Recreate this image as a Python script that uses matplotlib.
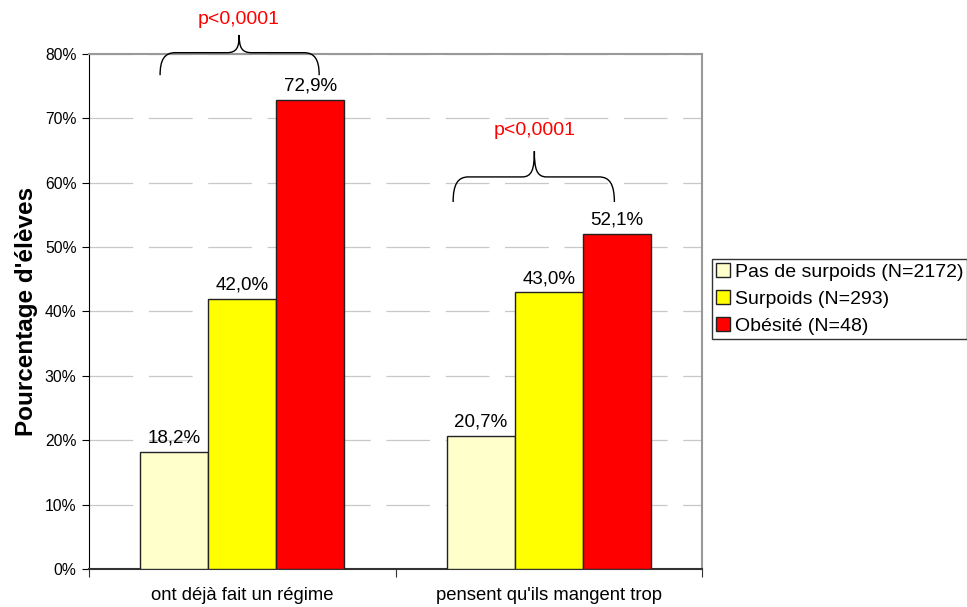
import matplotlib
matplotlib.use('Agg')
import matplotlib.pyplot as plt
from matplotlib.path import Path
from matplotlib.patches import PathPatch
import numpy as np

plt.rcParams['font.family'] = ['Liberation Sans', 'DejaVu Sans']

categories = ['ont déjà fait un régime', "pensent qu'ils mangent trop"]
series = ['Pas de surpoids (N=2172)', 'Surpoids (N=293)', 'Obésité (N=48)']
values = [[18.2, 20.7], [42.0, 43.0], [72.9, 52.1]]
labels = [['18,2%', '20,7%'], ['42,0%', '43,0%'], ['72,9%', '52,1%']]
colors = ['#FFFFCC', '#FFFF00', '#FF0000']
yticks = [0, 10, 20, 30, 40, 50, 60, 70, 80]
pval = 'p<0,0001'


def brace(ax, x0, x1, xm, y_end, y_h, y_tip):
    rx = 0.05
    rt = 0.04
    verts = [(x0, y_end),
             (x0, y_end + 0.7 * (y_h - y_end)), (x0 + 0.3 * rx, y_h), (x0 + rx, y_h),
             (xm - rt, y_h),
             (xm - 0.2 * rt, y_h), (xm, y_h + 0.3 * (y_tip - y_h)), (xm, y_tip),
             (xm, y_h + 0.3 * (y_tip - y_h)), (xm + 0.2 * rt, y_h), (xm + rt, y_h),
             (x1 - rx, y_h),
             (x1 - 0.3 * rx, y_h), (x1, y_end + 0.7 * (y_h - y_end)), (x1, y_end)]
    codes = [Path.MOVETO,
             Path.CURVE4, Path.CURVE4, Path.CURVE4,
             Path.LINETO,
             Path.CURVE4, Path.CURVE4, Path.CURVE4,
             Path.CURVE4, Path.CURVE4, Path.CURVE4,
             Path.LINETO,
             Path.CURVE4, Path.CURVE4, Path.CURVE4]
    p = PathPatch(Path(verts, codes), facecolor='none', edgecolor='black',
                  lw=1.0, clip_on=False, zorder=5)
    ax.add_patch(p)


fig = plt.figure(figsize=(9.67, 6.07), dpi=100)
ax = fig.add_axes([0.092, 0.0626, 0.634, 0.8485])

x = np.arange(len(categories))
w = 0.222
for i in range(len(series)):
    pos = x + (i - 1) * w
    ax.bar(pos, values[i], width=w, color=colors[i], edgecolor='#222222',
           linewidth=1.0, label=series[i], zorder=3)
    for j in range(len(categories)):
        ax.text(pos[j], values[i][j] + 0.8, labels[i][j], ha='center', va='bottom',
                fontsize=13.5, color='black', zorder=4)

ax.set_xlim(-0.5, 1.5)
ax.set_ylim(0, 80)
ax.set_yticks(yticks)
ax.set_yticklabels([f'{t}%' for t in yticks], fontsize=11.3)
ax.set_xticks([-0.5, 0.5, 1.5])
ax.set_xticklabels([])
ax.set_xticks(x, minor=True)
ax.set_xticklabels(categories, minor=True, fontsize=13.3)
ax.tick_params(axis='x', which='minor', length=0, pad=13)
ax.tick_params(axis='x', which='major', length=6, direction='out', color='#333333')
ax.tick_params(axis='y', length=5, direction='out', color='black', pad=4)

ax.yaxis.grid(True, color='#C8C8C8', linewidth=0.9, linestyle=(0, (35, 12.5)), zorder=0)
ax.set_axisbelow(True)

ax.spines['left'].set_color('black')
ax.spines['bottom'].set_color('#333333')
ax.spines['bottom'].set_linewidth(1.5)
ax.spines['top'].set_color('#999999')
ax.spines['top'].set_linewidth(1.5)
ax.spines['right'].set_color('#999999')
ax.spines['right'].set_linewidth(1.5)

ax.set_ylabel("Pourcentage d'élèves", fontsize=17.5, fontweight='bold', labelpad=5)

# accolades p-values
brace(ax, -0.268, 0.251, -0.01, 76.7, 80.2, 82.95)
ax.text(-0.01, 84.0, pval, color='red', ha='center', va='bottom', fontsize=14)
brace(ax, 0.688, 1.214, 0.953, 57.0, 60.9, 64.9)
ax.text(0.953, 66.8, pval, color='red', ha='center', va='bottom', fontsize=14)

leg = ax.legend(loc='center left', bbox_to_anchor=(1.017, 0.524), fontsize=14,
                frameon=True, fancybox=False, edgecolor='black', handlelength=0.7,
                handleheight=0.7, handletextpad=0.25, borderpad=0.2,
                labelspacing=0.48, borderaxespad=0)
leg.get_frame().set_linewidth(1.0)

fig.savefig('out.png', dpi=100)
